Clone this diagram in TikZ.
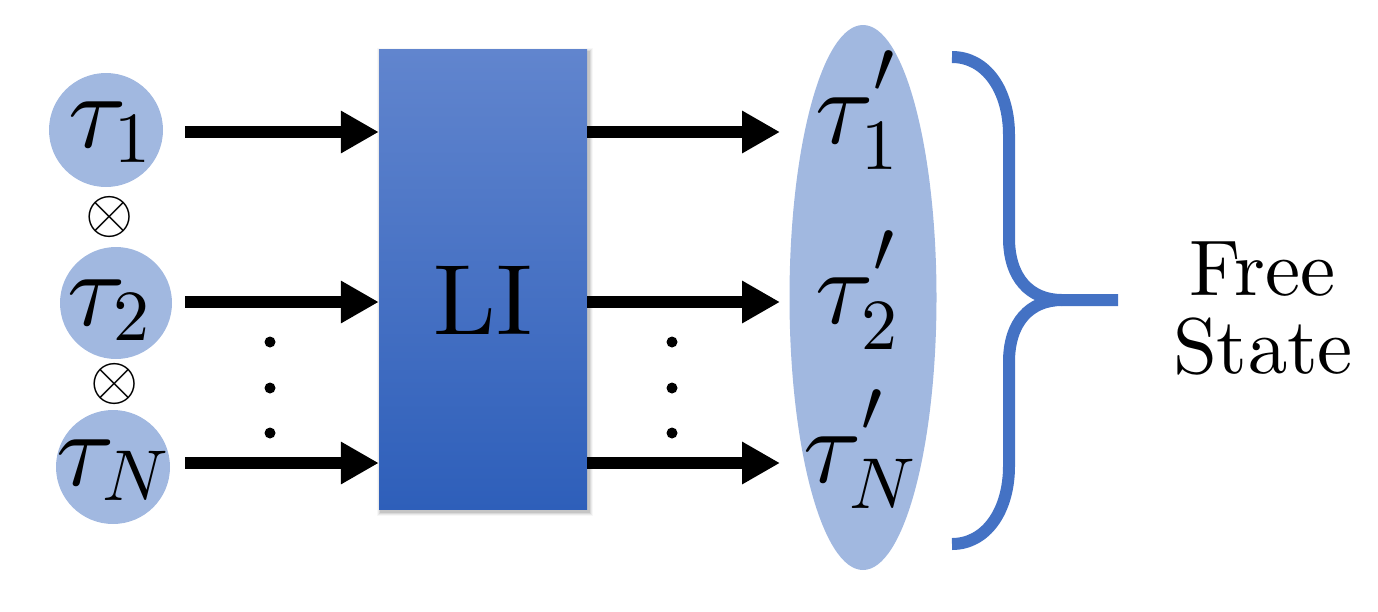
\documentclass[tikz,border=0pt]{standalone}
\usetikzlibrary{arrows.meta}
\DeclareFontShape{OML}{cmm}{m}{it}{<->cmmi10}{}
\DeclareFontShape{OMS}{cmsy}{m}{n}{<->cmsy10}{}
\DeclareFontShape{OT1}{cmr}{m}{n}{<->cmr10}{}
\DeclareMathSizes{106}{106}{72}{50}
\newcommand{\bigpr}{\raisebox{12pt}{\fontsize{75}{75}\selectfont$\prime$}}
\definecolor{circfill}{RGB}{161,184,224}
\definecolor{bracecol}{RGB}{68,114,196}
\definecolor{boxtop}{RGB}{97,133,206}
\definecolor{boxbot}{RGB}{46,95,186}
\tikzset{
  incirc/.style={circle, fill=circfill, inner sep=0pt},
  tlabel/.style={anchor=base west, inner sep=0pt, font=\fontsize{106}{110}\selectfont},
  otimesnode/.style={inner sep=0pt, font=\fontsize{62}{66}\selectfont},
  arr/.style={line width=12pt, -{Triangle[length=38pt,width=40pt]}},
  dotsty/.style={circle, fill=black, inner sep=0pt, minimum size=11pt},
  bracesty/.style={draw=bracecol, line width=12pt},
  cmtext/.style={anchor=base, inner sep=0pt, font=\fontsize{#1}{#1}\usefont{OT1}{cmr}{m}{n}},
}
\begin{document}
\begin{tikzpicture}[x=1pt,y=-1pt]
\useasboundingbox (0,0) rectangle (1378,611);
% input circles
\node[incirc, minimum size=114pt] (c1) at (106,130) {};
\node[incirc, minimum size=112pt] (c2) at (116,303) {};
\node[incirc, minimum size=114pt] (cN) at (113,467) {};
\node[tlabel] (t1) at (68,147) {$\tau_1$};
\node[tlabel] (t2) at (67,325) {$\tau_2$};
\node[tlabel] (tN) at (56,485) {$\tau_N$};
\node[otimesnode] (o1) at (110,217) {$\otimes$};
\node[otimesnode] (o2) at (115,384) {$\otimes$};
% box shadow
\foreach \k/\op in {4/0.03,3/0.05,2/0.07,1/0.09}{
  \fill[black, opacity=\op] (379-\k+2,49-\k+3) rectangle (587+\k+2,509+\k+3);
}
\node[minimum width=208pt, minimum height=460pt, inner sep=0pt, top color=boxtop, bottom color=boxbot, draw=none] (li) at (483,279) {};
\node[cmtext=100] (litext) at (483,334) {LI};
% output ellipse
\fill[circfill] (863,297.5) ellipse [x radius=73.5, y radius=272.5];
\coordinate (ell) at (863,297.5);
\node[tlabel] (p1) at (815,143) {$\tau^{\bigpr}_1$};
\node[tlabel] (p2) at (815,323) {$\tau^{\bigpr}_2$};
\node[tlabel] (pN) at (803,482) {$\tau^{\bigpr}_N$};
% arrows
\coordinate (a1) at (185,132);
\coordinate (a2) at (185,302);
\coordinate (aN) at (185,463);
\coordinate (b1) at (780,132);
\coordinate (b2) at (780,302);
\coordinate (bN) at (780,463);
\draw[arr] (a1) -- (a1 -| li.west);
\draw[arr] (a2) -- (a2 -| li.west);
\draw[arr] (aN) -- (aN -| li.west);
\draw[arr] (b1 -| li.east) -- (b1);
\draw[arr] (b2 -| li.east) -- (b2);
\draw[arr] (bN -| li.east) -- (bN);
% vertical dots
\foreach \y [count=\i] in {342,388,433}{
  \node[dotsty] (dl\i) at (270,\y) {};
  \node[dotsty] (dr\i) at (672,\y) {};
}
% brace
\draw[bracesty] (952,57) .. controls (986,57) and (1009,90) .. (1009,135)
  -- (1009,238) .. controls (1009,278) and (1030,300) .. (1062,300) -- (1118,300);
\draw[bracesty] (1062,300) .. controls (1030,300) and (1009,322) .. (1009,362)
  -- (1009,466) .. controls (1009,511) and (986,544) .. (952,544);
\node[cmtext=79] (free) at (1263,295) {Free};
\node[cmtext=79] (state) at (1263,373) {State};
\end{tikzpicture}
\end{document}
